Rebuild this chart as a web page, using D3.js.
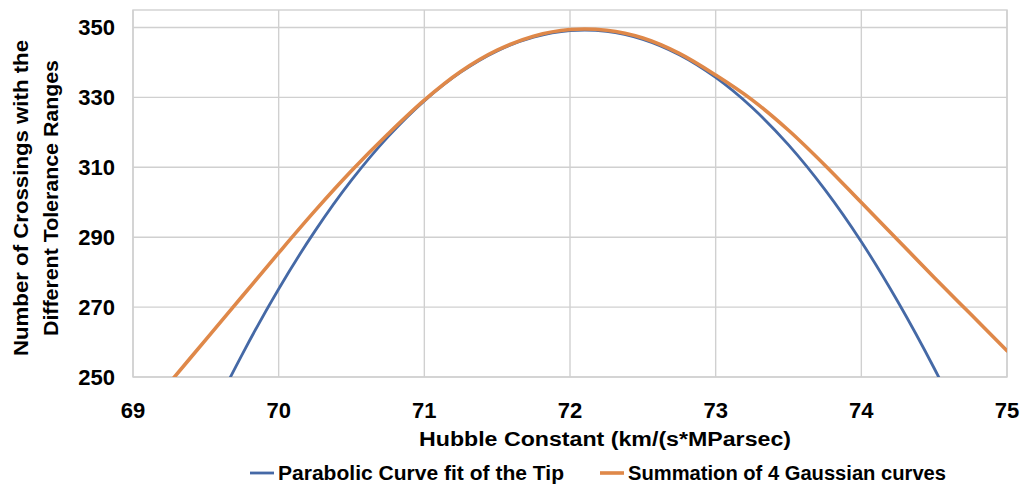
<!DOCTYPE html>
<html>
<head>
<meta charset="utf-8">
<script src="https://cdn.jsdelivr.net/npm/d3@7"></script>
<style>
  body { margin: 0; background: #fff; }
  text { font-family: "Liberation Sans", Arial, sans-serif; font-weight: bold; fill: #000; }
</style>
</head>
<body>
<svg id="chart" width="1023" height="484"></svg>
<script>
// values
const hubble = [69.25, 69.5, 69.75, 70, 70.25, 70.5, 70.75, 71, 71.25, 71.5, 71.75, 72,
  72.25, 72.5, 72.75, 73, 73.25, 73.5, 73.75, 74, 74.25, 74.5, 74.75, 75]
const parabolic = [212.8, 235.7, 256.5, 275.2, 291.8, 306.3, 318.7, 329.0, 337.2, 343.3, 347.2, 349.1,
  348.9, 346.6, 342.2, 335.7, 327.1, 316.4, 303.6, 288.7, 271.6, 252.5, 231.3, 208.0]
const gaussianSum = [248.3, 260.7, 273.1, 285.5, 297.6, 309.0, 319.5, 329.2, 337.4, 343.5, 347.5, 349.4,
  349.2, 347.0, 342.6, 336.4, 329.3, 320.6, 310.6, 299.9, 289.2, 278.5, 268.0, 257.5]
const xTicks = [69, 70, 71, 72, 73, 74, 75]
const yTicks = [250, 270, 290, 310, 330, 350]
const seriesNames = ["Parabolic Curve fit of the Tip", "Summation of 4 Gaussian curves"]
const colors = ["#4569a6", "#df8849"]

let svg = d3.select("#chart")
let box = { left: 133, top: 10, right: 1007, bottom: 377 }

let x = d3.scaleLinear().domain([69, 75]).range([box.left, box.right])
let y = d3.scaleLinear().domain([250, 355]).range([box.bottom, box.top])

// 网格
let grid = svg.append("g")
grid.selectAll(".vline")
  .data(xTicks)
  .enter()
  .append("line")
  .attr("x1", d => x(d)).attr("x2", d => x(d))
  .attr("y1", box.top).attr("y2", box.bottom)
grid.selectAll(".hline")
  .data(yTicks)
  .enter()
  .append("line")
  .attr("x1", box.left).attr("x2", box.right)
  .attr("y1", d => y(d)).attr("y2", d => y(d))
grid.append("rect")
  .attr("x", box.left).attr("y", box.top)
  .attr("width", box.right - box.left).attr("height", box.bottom - box.top)
  .attr("fill", "none")
grid.selectAll("line, rect").attr("stroke", "#d0d0d0").attr("stroke-width", 1.4)

// tick labels
svg.append("g").selectAll("text")
  .data(xTicks)
  .enter()
  .append("text")
  .attr("x", d => x(d))
  .attr("y", 418)
  .attr("text-anchor", "middle")
  .attr("font-size", "22px")
  .text(d => d)
svg.append("g").selectAll("text")
  .data(yTicks)
  .enter()
  .append("text")
  .attr("x", 115)
  .attr("y", d => y(d))
  .attr("dy", "0.36em")
  .attr("text-anchor", "end")
  .attr("font-size", "22px")
  .text(d => d)

// lines
svg.append("clipPath").attr("id", "plot")
  .append("rect")
  .attr("x", box.left).attr("y", box.top)
  .attr("width", box.right - box.left).attr("height", box.bottom - box.top)
let line = d3.line()
  .x((d, i) => x(hubble[i]))
  .y(d => y(d))
  .curve(d3.curveCatmullRom.alpha(0.5))
let lines = svg.append("g").attr("clip-path", "url(#plot)")
lines.selectAll("path")
  .data([parabolic, gaussianSum])
  .enter()
  .append("path")
  .attr("d", d => line(d))
  .attr("fill", "none")
  .attr("stroke", (d, i) => colors[i])
  .attr("stroke-width", (d, i) => i === 0 ? 2.8 : 3.6)
  .attr("stroke-linecap", "round")

// axis titles
svg.append("text")
  .attr("x", 605)
  .attr("y", 446)
  .attr("text-anchor", "middle")
  .attr("font-size", "20px")
  .attr("textLength", 372)
  .attr("lengthAdjust", "spacingAndGlyphs")
  .text("Hubble Constant (km/(s*MParsec)")
let yTitle = svg.append("g").attr("transform", "translate(0, 198) rotate(-90)")
yTitle.append("text")
  .attr("x", 0).attr("y", 28)
  .attr("text-anchor", "middle")
  .attr("font-size", "20px")
  .attr("textLength", 316)
  .attr("lengthAdjust", "spacingAndGlyphs")
  .text("Number of Crossings with the")
yTitle.append("text")
  .attr("x", 0).attr("y", 58)
  .attr("text-anchor", "middle")
  .attr("font-size", "20px")
  .attr("textLength", 276)
  .attr("lengthAdjust", "spacingAndGlyphs")
  .text("Different Tolerance Ranges")

// legend
let legendPos = [{ x: 250, w: 286 }, { x: 600, w: 318 }]
let legend = svg.append("g").selectAll("g")
  .data(seriesNames)
  .enter()
  .append("g")
  .attr("transform", (d, i) => `translate(${legendPos[i].x}, 473)`)
legend.append("line")
  .attr("x1", 0).attr("x2", 24)
  .attr("stroke", (d, i) => colors[i])
  .attr("stroke-width", (d, i) => i === 0 ? 2.8 : 3.6)
legend.append("text")
  .attr("x", 28)
  .attr("y", 7)
  .attr("font-size", "20px")
  .attr("textLength", (d, i) => legendPos[i].w)
  .attr("lengthAdjust", "spacingAndGlyphs")
  .text(d => d)
</script>
</body>
</html>
